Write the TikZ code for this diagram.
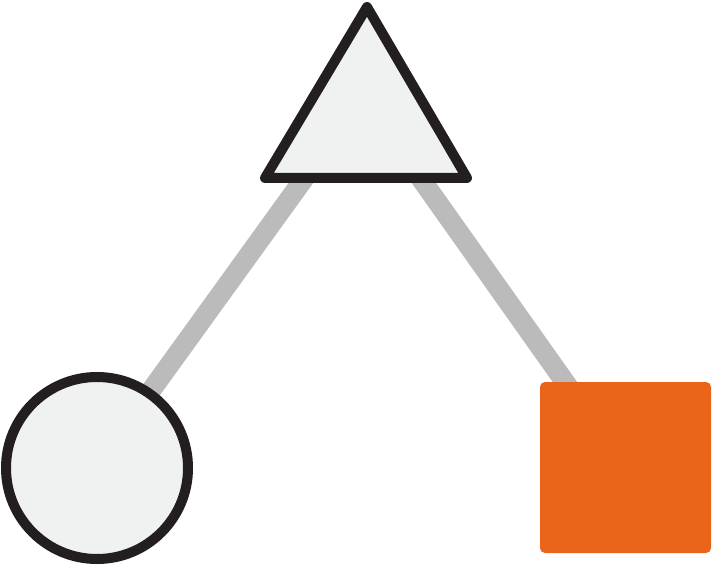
\documentclass[tikz,border=0pt]{standalone}
\definecolor{shapefill}{HTML}{F0F2F1}
\definecolor{edgegray}{HTML}{BBBBBB}
\definecolor{sqorange}{HTML}{EA6519}
\definecolor{outline}{HTML}{231F20}
\begin{document}
\begin{tikzpicture}[x=0.75pt,y=-0.75pt,
  shapeline/.style={draw=outline,line width=7.5pt,fill=shapefill,line join=round},
  link/.style={draw=edgegray,line width=15pt}]
\useasboundingbox (0,0) rectangle (712,566);
\coordinate (circ) at (95,468);
\coordinate (hub) at (363,97);
\coordinate (sq) at (625.5,467.5);
\coordinate (tA) at (367,7);
\coordinate (tB) at (467,178);
\coordinate (tC) at (265,178);
\draw[link] (circ) -- (hub) -- (sq);
\draw[shapeline] (tA) -- (tB) -- (tC) -- cycle;
\node[shapeline,circle,inner sep=0pt,minimum size=136.5pt] (c) at (97,468) {};
\node[rectangle,fill=sqorange,inner sep=0pt,minimum size=128.25pt,rounded corners=3.75pt] (s) at (sq) {};
\end{tikzpicture}
\end{document}
